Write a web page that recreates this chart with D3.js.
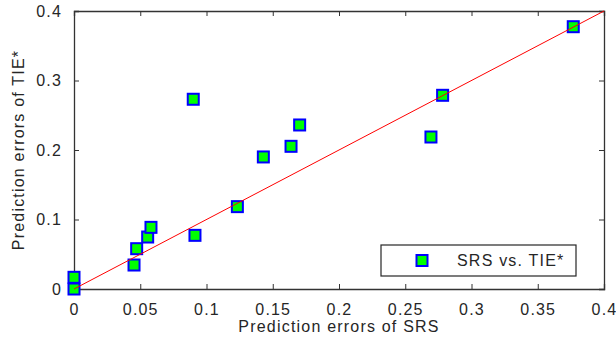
<!DOCTYPE html>
<html lang="en">
<head>
    <meta charset="UTF-8">
    <title>SRS vs. TIE*</title>
    <script src="https://cdnjs.cloudflare.com/ajax/libs/d3/7.8.5/d3.min.js"></script>
    <style>
        body { margin: 0; background: #fff; }
        svg text { font-family: Arial, "Liberation Sans", sans-serif; fill: #262626; letter-spacing: 1.2px; }
    </style>
</head>
<body>
<svg width="616" height="338"></svg>
<script>
    // prediction errors
    const srsErrors = [0, 0, 0.0453, 0.0473, 0.0556, 0.0581, 0.0913, 0.1233, 0.090, 0.1429, 0.1638, 0.1703, 0.2694, 0.2782, 0.3768];
    const tieErrors = [0, 0.0168, 0.0345, 0.058, 0.0748, 0.0887, 0.0772, 0.1185, 0.273, 0.19, 0.2053, 0.236, 0.2187, 0.2787, 0.3774];
    const xTicks = [0, 0.05, 0.1, 0.15, 0.2, 0.25, 0.3, 0.35, 0.4];
    const yTicks = [0, 0.1, 0.2, 0.3, 0.4];
    const refLine = [0, 0.4];
    const legendLabel = "SRS vs. TIE*";

    const svg = d3.select("svg");
    const plotL = 74, plotR = 604, plotT = 11, plotB = 289;

    const x = d3.scaleLinear().domain([0, 0.4]).range([plotL, plotR]);
    const y = d3.scaleLinear().domain([0, 0.4]).range([plotB, plotT]);
    const fmt = d => String(+d.toFixed(2));

    // axes, ticks pointing inward
    svg.append("g").attr("class", "xaxis").attr("transform", `translate(0,${plotB})`)
        .call(d3.axisBottom(x).tickValues(xTicks).tickSize(-5).tickPadding(11).tickFormat(fmt));
    svg.append("g").attr("transform", `translate(0,${plotT})`)
        .call(d3.axisTop(x).tickValues(xTicks).tickSize(-5).tickFormat(""));
    svg.append("g").attr("transform", `translate(${plotL},0)`)
        .call(d3.axisLeft(y).tickValues(yTicks).tickSize(-5).tickPadding(12).tickFormat(fmt));
    svg.append("g").attr("transform", `translate(${plotR},0)`)
        .call(d3.axisRight(y).tickValues(yTicks).tickSize(-5).tickFormat(""));

    svg.selectAll(".domain").attr("stroke", "#333").attr("stroke-width", 1.3);
    svg.selectAll(".tick line").attr("stroke", "#333");
    svg.selectAll(".tick text").attr("font-size", 16).attr("fill", "#262626")
        .style("font-family", "Arial, 'Liberation Sans', sans-serif");
    svg.select(".xaxis").selectAll(".tick text").attr("dy", "0.95em");

    // data points
    const pts = srsErrors.map((v, i) => ({ x: v, y: tieErrors[i] }));
    svg.append("g").selectAll("rect")
        .data(pts)
        .enter()
        .append("rect")
        .attr("x", d => x(d.x) - 5.5)
        .attr("y", d => y(d.y) - 5.5)
        .attr("width", 11)
        .attr("height", 11)
        .attr("fill", "#00ff00")
        .attr("stroke", "#0000ff")
        .attr("stroke-width", 2);

    // y = x reference line
    svg.append("line")
        .attr("x1", x(refLine[0])).attr("y1", y(refLine[0]))
        .attr("x2", x(refLine[1])).attr("y2", y(refLine[1]))
        .attr("stroke", "#ff0000")
        .attr("stroke-width", 1);

    // axis labels
    svg.append("text")
        .attr("x", (plotL + plotR) / 2)
        .attr("y", 332)
        .attr("text-anchor", "middle")
        .attr("font-size", 16)
        .text("Prediction errors of SRS");
    svg.append("text")
        .attr("transform", `translate(24,${(plotT + plotB) / 2}) rotate(-90)`)
        .attr("text-anchor", "middle")
        .attr("font-size", 16)
        .text("Prediction errors of TIE*");

    // legend
    const legend = svg.append("g");
    legend.append("rect")
        .attr("x", 381).attr("y", 245)
        .attr("width", 195).attr("height", 31)
        .attr("fill", "#fff")
        .attr("stroke", "#262626")
        .attr("stroke-width", 1.2);
    legend.append("rect")
        .attr("x", 422 - 5.5).attr("y", 260.5 - 5.5)
        .attr("width", 11).attr("height", 11)
        .attr("fill", "#00ff00")
        .attr("stroke", "#0000ff")
        .attr("stroke-width", 2);
    legend.append("text")
        .attr("x", 457).attr("y", 266)
        .attr("font-size", 16)
        .text(legendLabel);
</script>
</body>
</html>
